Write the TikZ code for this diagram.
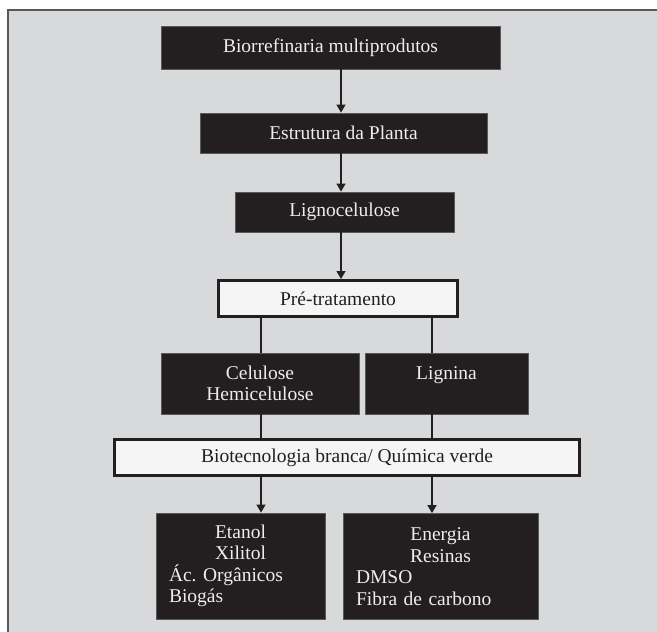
\documentclass[tikz,border=0pt]{standalone}
\usepackage{fontspec}
\setmainfont{Liberation Serif}
\usetikzlibrary{arrows.meta}
\definecolor{corCaixa}{HTML}{231F20}
\definecolor{corFundo}{HTML}{D8D9DB}
\definecolor{corMoldura}{HTML}{58585A}
\definecolor{corTexto}{HTML}{EDEDED}
\frenchspacing

\begin{document}
\begin{tikzpicture}[
        x=1pt, y=-1pt,
        caixa/.style={rectangle, inner sep=0pt, align=center, font=\fontsize{19.5}{21.5}\selectfont},
        caixaPreta/.style={caixa, fill=corCaixa, draw=gray!70!black, line width=0.8pt, text=corTexto},
        caixaBranca/.style={caixa, fill=white!96!black, draw=corCaixa, line width=3pt, text=corCaixa},
        caixaProduto/.style={caixaPreta, align=left, minimum height=106},
        seta/.style={-{Triangle[length=8pt,width=9pt]}, line width=1.4pt, draw=corCaixa},
        linha/.style={line width=1.4pt, draw=corCaixa}
    ]
        % Fundo com moldura
        \useasboundingbox (0,0) rectangle (657,632);
        \fill[corFundo] (8,10) rectangle (657,632);
        \draw[corMoldura, line width=2pt] (8,632) -- (8,10) -- (657,10);

        % Eixos das ligacoes
        \coordinate (eixoC) at (341,0);
        \coordinate (eixoE) at (261,0);
        \coordinate (eixoD) at (432,0);

        % Cadeia principal
        \node[caixaPreta, minimum width=339, minimum height=43] (biorref) at (330.5, 47.5) {Biorrefinaria multiprodutos};
        \node[caixaPreta, minimum width=287, minimum height=40] (estrutura) at (343.5, 133) {Estrutura da Planta};
        \node[caixaPreta, minimum width=219, minimum height=40] (ligno) at (344.5, 212) {Lignocelulose};
        \node[caixaBranca, minimum width=239, minimum height=36] (pretrat) at (338, 298.5) {Pré-tratamento};

        \draw[seta] (biorref.south -| eixoC) -- (estrutura.north -| eixoC);
        \draw[seta] (estrutura.south -| eixoC) -- (ligno.north -| eixoC);
        \draw[seta] (ligno.south -| eixoC) -- (pretrat.north -| eixoC);

        % Fracoes
        \node[caixaPreta, minimum width=198, minimum height=61] (celulose) at (260, 383.5) {Celulose\\Hemicelulose};
        \node[caixaPreta, minimum width=163, minimum height=61] (lignina) at (446.5, 383.5) {Lignina\\\mbox{}};

        \draw[linha] (pretrat.south -| eixoE) -- (celulose.north -| eixoE);
        \draw[linha] (pretrat.south -| eixoD) -- (lignina.north -| eixoD);

        % Conversao
        \node[caixaBranca, minimum width=465, minimum height=36] (biotec) at (347, 457.5) {Biotecnologia branca/ Química verde};

        \draw[linha] (celulose.south -| eixoE) -- (biotec.north -| eixoE);
        \draw[linha] (lignina.south -| eixoD) -- (biotec.north -| eixoD);

        % Produtos
        \node[caixaProduto, minimum width=169, text width=143] (etanol) at (240.5, 566)
            {\makebox[\hsize]{Etanol}\\\makebox[\hsize]{Xilitol}\\Ác. Orgânicos\\Biogás};
        \node[caixaProduto, minimum width=195, text width=169] (energia) at (440.5, 566.5)
            {\makebox[\hsize]{Energia}\\\makebox[\hsize]{Resinas}\\DMSO\\Fibra de carbono};

        \draw[seta] (biotec.south -| eixoE) -- (etanol.north -| eixoE);
        \draw[seta] (biotec.south -| eixoD) -- (energia.north -| eixoD);
    \end{tikzpicture}
\end{document}
